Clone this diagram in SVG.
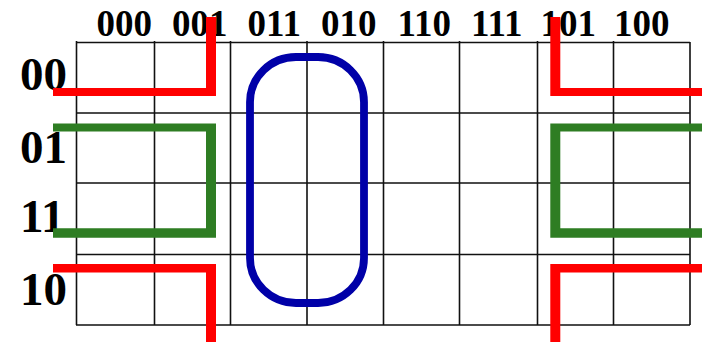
<svg xmlns="http://www.w3.org/2000/svg" width="702" height="342" viewBox="0 0 702 342">
<style>
text{font-family:"Liberation Serif","Times New Roman",serif;font-weight:bold;fill:#000}
.t{font-size:37px}
.s{font-size:47px}
#grid path{fill:none;stroke:#111;stroke-width:1.6}
.red{fill:#f00}
.green{fill:#2e7d23}
</style>
<rect width="702" height="342" fill="#fff"/>
<g id="grid">
<path d="M76.500 41V325M154.500 41V325M230.500 41V325M307 41V325M383.500 41V325M459.500 41V325M537.500 41V325M613.500 41V325M690 42V325"/>
<path d="M76 42.500H690M76 113H690M76 183H690M76 254.500H690M76 325H690"/>
</g>
<g id="column-labels">
<text class="t" x="96.500" y="35.500">000</text>
<text class="t" x="172" y="35.500">001</text>
<text class="t" x="247.500" y="35.500">011</text>
<text class="t" x="321" y="35.500">010</text>
<text class="t" x="397.500" y="35.500">110</text>
<text class="t" x="471" y="35.500">111</text>
<text class="t" x="540.500" y="35.500">101</text>
<text class="t" x="614" y="35.500">100</text>
</g>
<g id="row-labels">
<text class="s" x="20" y="90">00</text>
<text class="s" x="20" y="163">01</text>
<text class="s" x="20" y="232">11</text>
<text class="s" x="20" y="305">10</text>
</g>
<g id="connectors">
<path id="red-tl" class="red" d="M53 88H206V17H216V96H53Z"/>
<path id="red-tr" class="red" d="M702 88H560.300V17H550.300V96H702Z"/>
<path id="red-bl" class="red" d="M53 264H216V342H206V272.500H53Z"/>
<path id="red-br" class="red" d="M702 264H550.300V342H560.300V272.500H702Z"/>
<path id="green-l" class="green" d="M53 123.500H216V237.700H53V228.300H206V131.500H53Z"/>
<path id="green-r" class="green" d="M702 123.500H550.300V237.700H702V228.300H560.300V131.500H702Z"/>
<rect id="blue" x="250" y="57" width="114" height="246" rx="46" ry="45" fill="none" stroke="#0000a8" stroke-width="7.800"/>
</g>
</svg>
